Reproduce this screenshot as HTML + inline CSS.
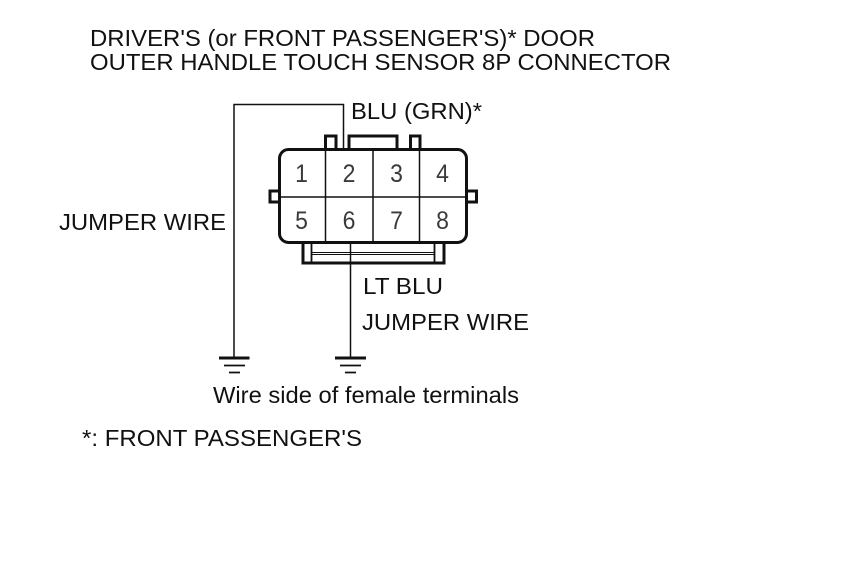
<!DOCTYPE html>
<html><head><meta charset="utf-8"><style>html,body{margin:0;padding:0;background:#fff}svg{display:block}text{font-family:"Liberation Sans",Arial,sans-serif;fill:#111}</style></head>
<body>
<svg width="860" height="580" viewBox="0 0 860 580" xmlns="http://www.w3.org/2000/svg">
<rect width="860" height="580" fill="#fff"/>
<g font-size="23">
<text x="90" y="46" textLength="505" lengthAdjust="spacingAndGlyphs">DRIVER'S (or FRONT PASSENGER'S)* DOOR</text>
<text x="90" y="70" textLength="581" lengthAdjust="spacingAndGlyphs">OUTER HANDLE TOUCH SENSOR 8P CONNECTOR</text>
<text x="351" y="119" textLength="131" lengthAdjust="spacingAndGlyphs">BLU (GRN)*</text>
<text x="59" y="230" textLength="167" lengthAdjust="spacingAndGlyphs">JUMPER WIRE</text>
<text x="363" y="294" textLength="80" lengthAdjust="spacingAndGlyphs">LT BLU</text>
<text x="362" y="330" textLength="167" lengthAdjust="spacingAndGlyphs">JUMPER WIRE</text>
<text x="213" y="403" textLength="306" lengthAdjust="spacingAndGlyphs">Wire side of female terminals</text>
<text x="82" y="446" textLength="280" lengthAdjust="spacingAndGlyphs">*: FRONT PASSENGER'S</text>
</g>
<g fill="none" stroke="#111">
<g stroke-width="3">
<path d="M325.500 149V136H336V149"/>
<path d="M349 149V136H397V149"/>
<path d="M410.500 149V136H420V149"/>
<path d="M279 191H270V202H279"/>
<path d="M467 191H476.500V202H467"/>
<path d="M303 243V263H444V243"/>
<rect x="279.500" y="149.500" width="187" height="93" rx="9" fill="#fff"/>
</g>
<g stroke-width="1.500">
<path d="M325.500 149V243M373 149V243M419.500 149V243M279 197H467"/>
<path d="M311.500 243V263M434.500 243V263" stroke-width="1.800"/>
<path d="M311.500 252.500H434.500M311.500 254.500H434.500" stroke-width="1"/>
<path d="M234 358V104.500H343.500V149"/>
<path d="M350.500 243V358"/>
<path d="M224 365.500H245M229 372.500H240M340 365.500H361M345 372.500H356" stroke-width="1.800"/>
</g>
<path d="M219 358H249.500M335 358H366" stroke-width="3"/>
</g>
<g font-size="25" text-anchor="middle">
<text x="301.500" y="182" style="fill:#3a3a3a" transform="translate(301.500 0) scale(.92 1) translate(-301.500 0)">1</text>
<text x="349" y="182" style="fill:#3a3a3a" transform="translate(349 0) scale(.92 1) translate(-349 0)">2</text>
<text x="396.500" y="182" style="fill:#3a3a3a" transform="translate(396.500 0) scale(.92 1) translate(-396.500 0)">3</text>
<text x="442.500" y="182" style="fill:#3a3a3a" transform="translate(442.500 0) scale(.92 1) translate(-442.500 0)">4</text>
<text x="301.500" y="229" style="fill:#3a3a3a" transform="translate(301.500 0) scale(.92 1) translate(-301.500 0)">5</text>
<text x="349" y="229" style="fill:#3a3a3a" transform="translate(349 0) scale(.92 1) translate(-349 0)">6</text>
<text x="396.500" y="229" style="fill:#3a3a3a" transform="translate(396.500 0) scale(.92 1) translate(-396.500 0)">7</text>
<text x="442.500" y="229" style="fill:#3a3a3a" transform="translate(442.500 0) scale(.92 1) translate(-442.500 0)">8</text>
</g>
</svg>
</body></html>
